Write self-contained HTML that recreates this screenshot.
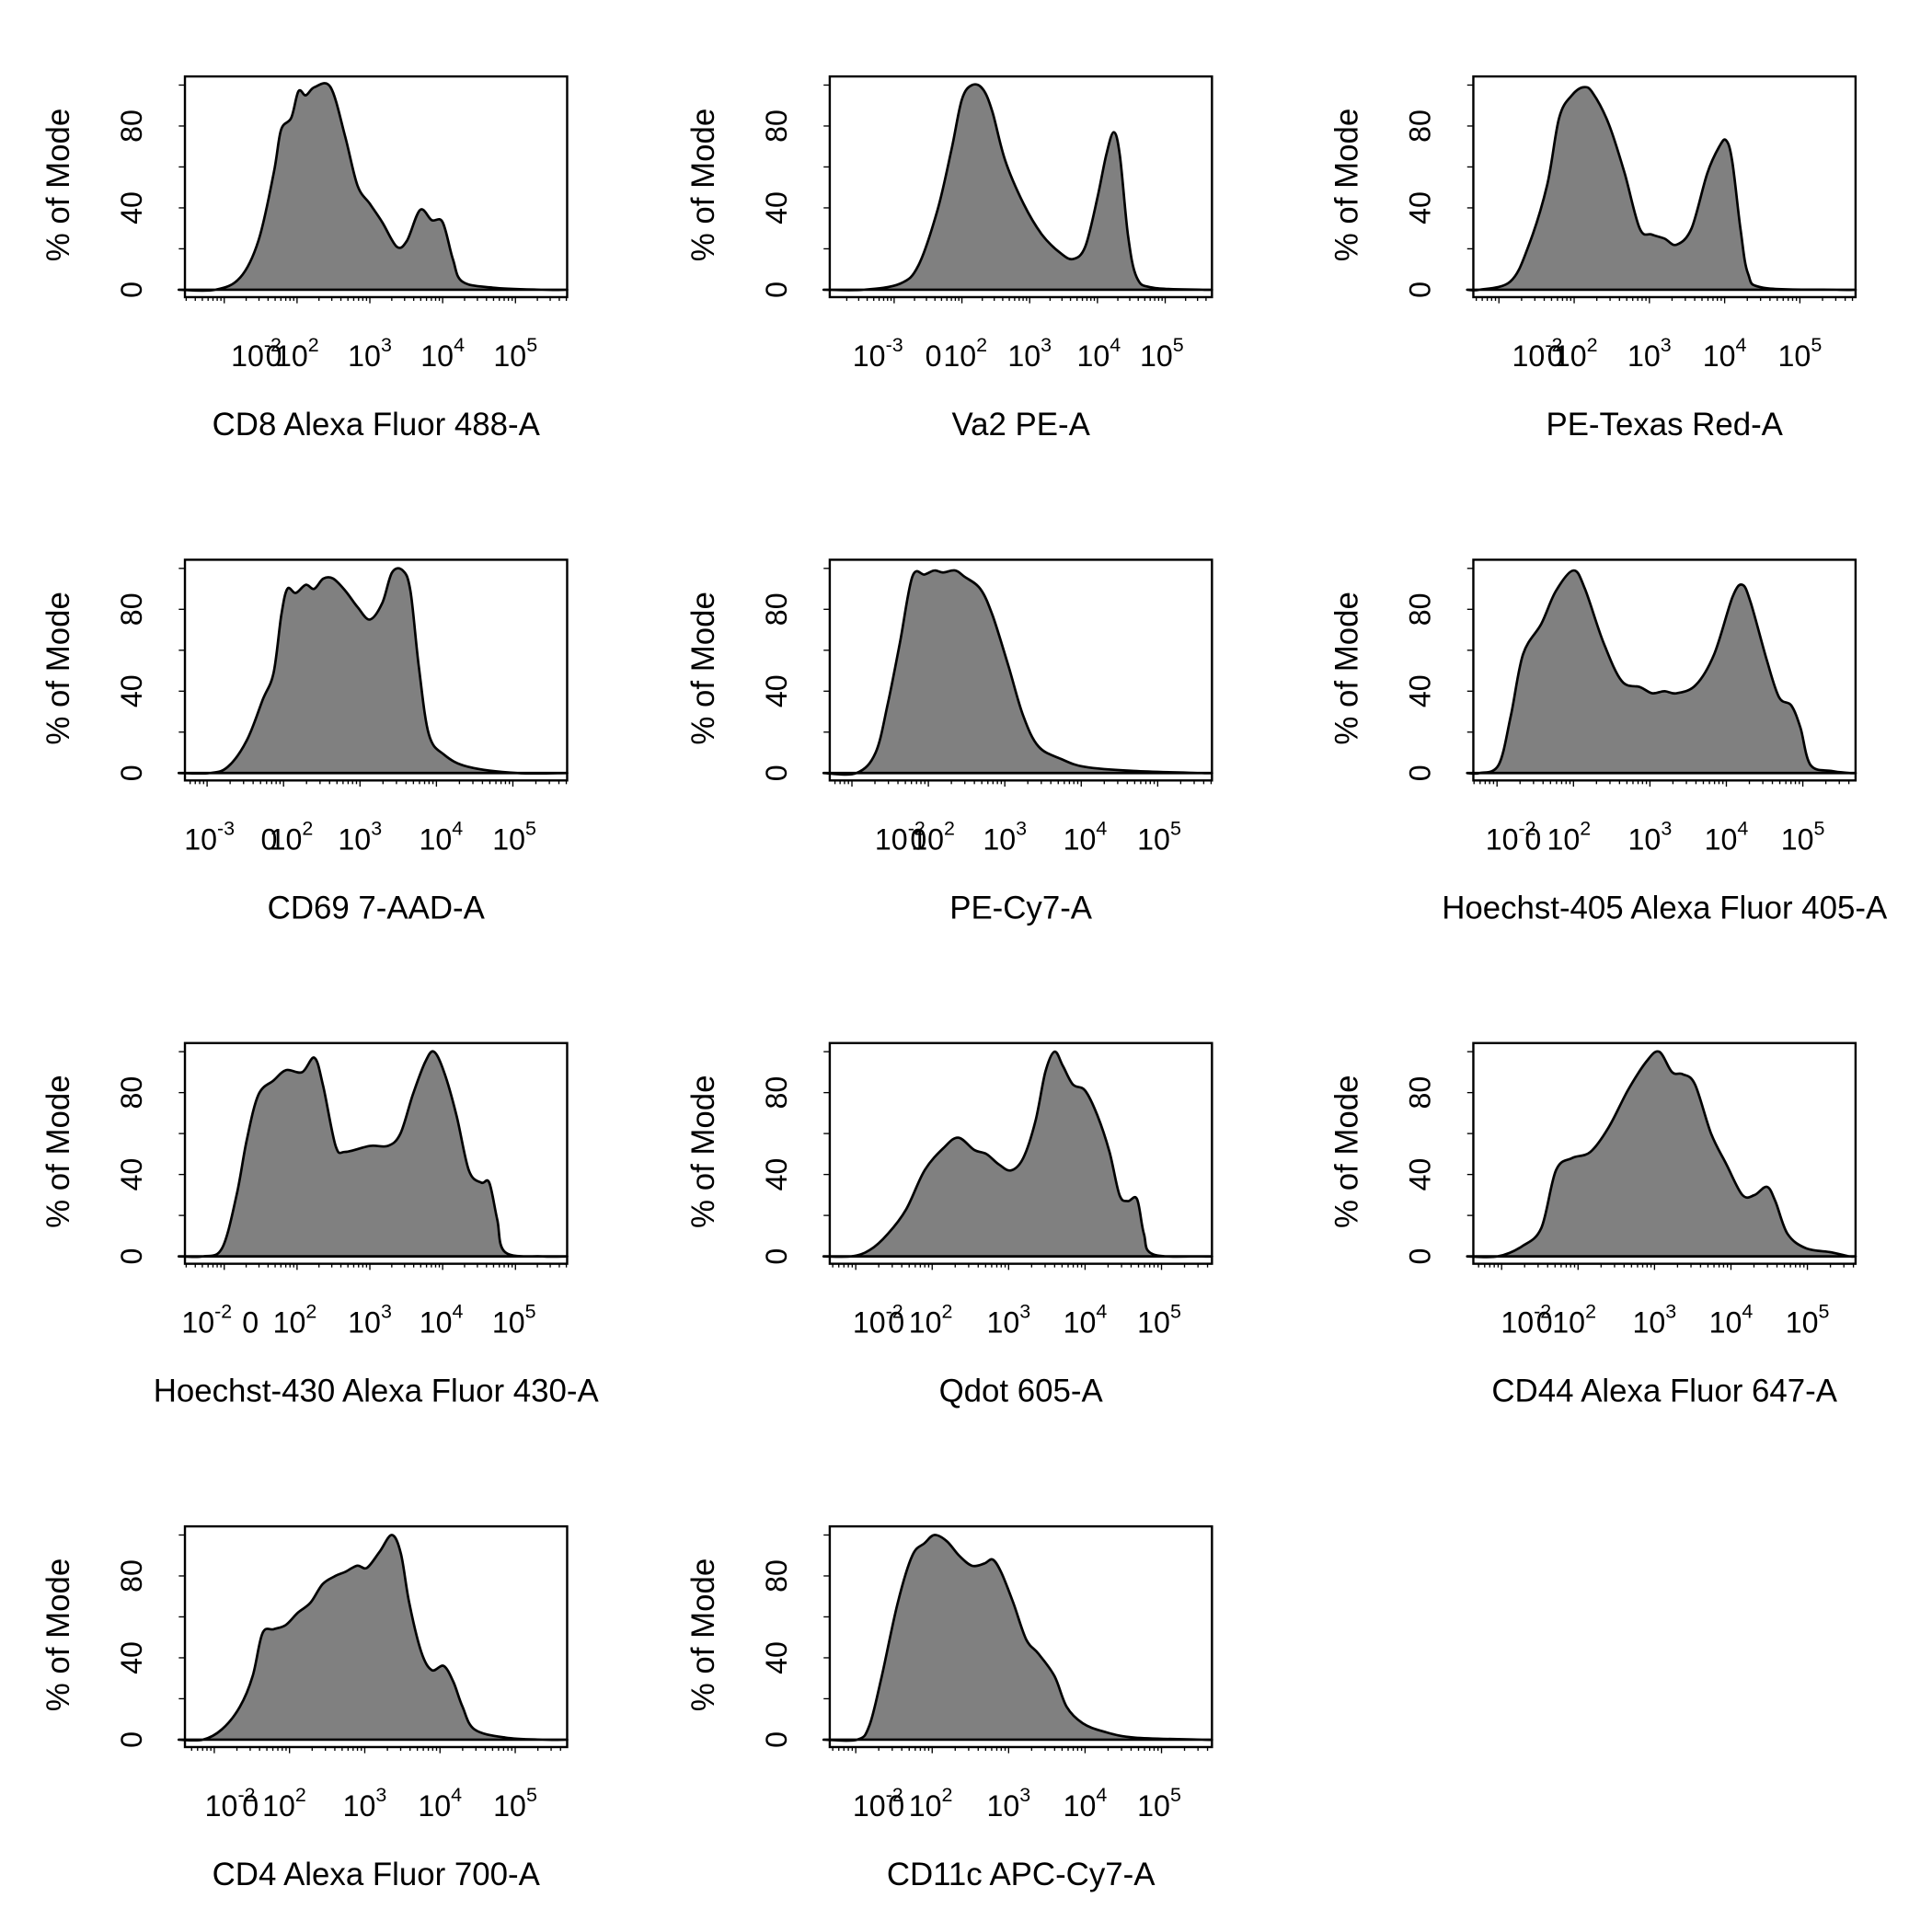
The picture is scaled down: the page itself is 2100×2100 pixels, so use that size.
<!DOCTYPE html>
<html><head><meta charset="utf-8"><style>
html,body{margin:0;padding:0;background:#fff;}
svg{display:block;}
text{font-family:"Liberation Sans",Arial,sans-serif;fill:#000;}
</style></head>
<body>
<svg id="chart" width="2100" height="2100" viewBox="0 0 1567 1567" xmlns="http://www.w3.org/2000/svg"></svg>
<script>
// Panel titles
const titles = ["CD8 Alexa Fluor 488-A","Va2 PE-A","PE-Texas Red-A","CD69 7-AAD-A","PE-Cy7-A","Hoechst-405 Alexa Fluor 405-A","Hoechst-430 Alexa Fluor 430-A","Qdot 605-A","CD44 Alexa Fluor 647-A","CD4 Alexa Fluor 700-A","CD11c APC-Cy7-A"];
// x domains in transformed decade units
const domains = [[0.46,5.71],[0.05,5.69],[0.66,5.74],[0.71,5.71],[0.71,5.71],[0.69,5.69],[0.46,5.71],[0.66,5.66],[0.63,5.63],[0.61,5.69],[0.66,5.66]];
// tick label exponents and their axis values
const tickExp = [["-2","0","2","3","4","5"],["-3","0","2","3","4","5"],["-2","0","2","3","4","5"],["-3","0","2","3","4","5"],["-2","0","2","3","4","5"],["-2","0","2","3","4","5"],["-2","0","2","3","4","5"],["-2","0","2","3","4","5"],["-2","0","2","3","4","5"],["-2","0","2","3","4","5"],["-2","0","2","3","4","5"]];
const tickVals = [
 [1.44,1.68,2.0,3,4,5],[0.76,1.58,2.05,3,4.02,4.95],[1.51,1.75,2.02,3,4,5],
 [1.03,1.81,2.10,3,4.06,5.02],[1.63,1.87,2.06,3,4.05,5.02],[1.18,1.47,1.94,3,4,5],
 [0.76,1.36,1.97,3,3.98,4.98],[1.29,1.53,1.98,3,4,4.97],[1.32,1.56,1.95,3,4,5],
 [1.21,1.48,1.93,3,4,5],[1.29,1.53,1.98,3,4,4.97]];
const yTicks = [0,20,40,60,80,100];
const yLabels = [0,40,80];
// series: x in decade units, y in % of mode
const xs1=[0.88,1.22,1.47,1.68,1.78,1.92,2.02,2.12,2.24,2.46,2.66,2.83,3.0,3.17,3.37,3.51,3.69,3.85,4.0,4.14,4.27,4.69,5.37];
const ys1=[0,6,24,57,78,84,97,95,99,99,75,51,42,33,21,24,39,34,33,15,4,1,0];
const xs2=[0.55,1.09,1.36,1.64,1.85,2.0,2.15,2.31,2.45,2.64,2.91,3.18,3.45,3.64,3.82,4.0,4.13,4.24,4.33,4.45,4.58,4.82,5.55];
const ys2=[0,3,12,39,69,93,100,98,87,63,42,27,18,15,21,45,66,77,66,27,6,1,0];
const xs3=[0.74,1.15,1.39,1.64,1.80,1.97,2.13,2.25,2.46,2.67,2.87,3.03,3.20,3.36,3.56,3.77,3.93,4.02,4.10,4.21,4.31,4.51,5.49];
const ys3=[0,4,21,51,84,95,99,96,81,57,30,27,25,22,30,57,70,73,63,30,8,1,0];
const xs4=[1.03,1.27,1.52,1.73,1.87,1.97,2.05,2.16,2.29,2.40,2.52,2.65,2.81,2.97,3.13,3.29,3.42,3.56,3.66,3.77,3.90,4.10,4.42,5.06];
const ys4=[0,3,16,36,49,77,90,88,92,90,95,95,89,81,75,83,98,99,89,52,19,9,3,0];
const xs5=[1.06,1.31,1.47,1.63,1.79,1.95,2.08,2.19,2.35,2.47,2.68,2.84,3.05,3.24,3.44,3.73,4.05,4.69,5.58];
const ys5=[0,10,34,64,96,97,99,98,99,96,90,77,52,28,13,7,3,1,0];
const xs6=[0.77,1.02,1.18,1.34,1.58,1.77,2.0,2.15,2.39,2.63,2.87,3.03,3.19,3.35,3.60,3.84,4.08,4.21,4.32,4.53,4.69,4.85,4.97,5.10,5.37,5.61];
const ys6=[0,4,28,58,73,89,99,90,64,45,42,39,40,39,43,58,86,92,83,55,37,33,22,4,1,0];
const xs7=[0.71,0.97,1.17,1.31,1.47,1.68,1.85,2.07,2.24,2.36,2.53,2.66,3.0,3.25,3.42,3.59,3.76,3.88,4.02,4.19,4.36,4.53,4.64,4.75,4.86,5.37];
const ys7=[0,4,30,57,79,86,91,90,97,83,54,51,54,54,60,79,95,100,90,69,42,36,36,18,2,0];
const xs8=[0.94,1.18,1.42,1.66,1.90,2.15,2.34,2.55,2.71,2.87,3.03,3.19,3.35,3.48,3.60,3.71,3.84,4.0,4.16,4.32,4.45,4.56,4.68,4.77,4.89,5.53];
const ys8=[0,3,11,23,42,53,58,52,50,45,42,48,66,90,100,93,84,81,69,51,30,27,28,11,1,0];
const xs9=[0.95,1.27,1.52,1.71,1.92,2.16,2.40,2.65,2.89,3.06,3.23,3.37,3.53,3.74,3.94,4.15,4.31,4.47,4.58,4.74,4.98,5.31,5.55];
const ys9=[0,5,14,42,48,51,63,81,95,100,90,89,84,60,45,30,30,34,27,11,4,2,0];
const xs10=[0.85,1.10,1.34,1.51,1.64,1.79,1.95,2.11,2.28,2.44,2.61,2.74,2.90,3.03,3.20,3.36,3.48,3.59,3.75,3.89,4.05,4.18,4.30,4.46,4.87,5.36];
const ys10=[0,5,16,31,52,54,56,62,67,76,80,82,85,84,92,100,91,67,43,34,36,28,16,5,1,0];
const xs11=[1.02,1.18,1.34,1.55,1.74,1.90,2.03,2.19,2.35,2.52,2.68,2.79,2.90,3.06,3.23,3.39,3.60,3.76,3.97,4.24,4.65,5.53];
const ys11=[0,7,31,67,90,96,100,97,90,85,86,88,82,67,49,42,31,16,8,4,1,0];
const seriesX=[xs1,xs2,xs3,xs4,xs5,xs6,xs7,xs8,xs9,xs10,xs11];
const seriesY=[ys1,ys2,ys3,ys4,ys5,ys6,ys7,ys8,ys9,ys10,ys11];

const NS="http://www.w3.org/2000/svg";
const svg=document.getElementById('chart');
function mk(tag,attrs,parent){const e=document.createElementNS(NS,tag);for(const k in attrs)e.setAttribute(k,attrs[k]);(parent||svg).appendChild(e);return e;}
function smooth(P){
  let s=`M${P[0][0].toFixed(1)},${P[0][1].toFixed(1)}`;
  for(let i=0;i<P.length-1;i++){
    const p0=P[Math.max(0,i-1)],p1=P[i],p2=P[i+1],p3=P[Math.min(P.length-1,i+2)];
    const c1=[p1[0]+(p2[0]-p0[0])/6,p1[1]+(p2[1]-p0[1])/6];
    const c2=[p2[0]-(p3[0]-p1[0])/6,p2[1]-(p3[1]-p1[1])/6];
    s+=` C${c1[0].toFixed(1)},${c1[1].toFixed(1)} ${c2[0].toFixed(1)},${c2[1].toFixed(1)} ${p2[0].toFixed(1)},${p2[1].toFixed(1)}`;
  }
  return s;
}

const colX=[150,673,1195], rowY=[62,454,846,1238], W=310, H=179;
for(let p=0;p<titles.length;p++){
  const bx=colX[p%3], by=rowY[Math.floor(p/3)];
  const g=mk('g',{});
  
  
  const d=domains[p];
  const xScale=v=>bx+(v-d[0])/(d[1]-d[0])*W;
  const zeroY=by+173, topY=by+7;
  const yScale=v=>zeroY-(v/100)*(zeroY-topY);
  const X=seriesX[p],Y=seriesY[p];
  const P=[[bx-5,zeroY]];
  for(let i=0;i<X.length;i++) P.push([xScale(X[i]),yScale(Y[i])]);
  P.push([bx+W,zeroY]);
  const area=mk('path',{d:smooth(P)+' Z',fill:'#808080',stroke:'#000','stroke-width':2,'stroke-linejoin':'round'},g);
  
  
  const box=mk('rect',{x:bx,y:by,width:W,height:H,fill:'none',stroke:'#000','stroke-width':1.8},g);
  
  
  for(const t of yTicks){mk('line',{x1:bx-5,x2:bx,y1:yScale(t),y2:yScale(t),stroke:'#000','stroke-width':1},g);}
  for(const t of yLabels){
    const tx=mk('text',{x:bx-43,y:yScale(t)+8,'font-size':24,'text-anchor':'middle',transform:`rotate(-90 ${bx-43} ${yScale(t)})`},g);
    
    
    tx.textContent=t;
  }
  const yl=mk('text',{x:bx-103,y:by+97,'font-size':26,'text-anchor':'middle',transform:`rotate(-90 ${bx-103} ${by+88})`},g);
  
  
  yl.textContent='% of Mode';
  for(let k=0;k<=6;k++){for(let m=1;m<=9;m++){const v=k+Math.log10(m);if(v<d[0]||v>d[1])continue;
    mk('line',{x1:xScale(v),x2:xScale(v),y1:by+H,y2:by+H+(m===1?5:3),stroke:'#000','stroke-width':1},g);}}
  for(let i=0;i<tickVals[p].length;i++){
    const e=tickExp[p][i], x=xScale(tickVals[p][i]);
    const tx=mk('text',{x:x,y:by+235,'font-size':24,'text-anchor':'middle'},g);
    
    
    if(e==='0'){tx.textContent='0';}
    else{tx.textContent='10';const s=mk('tspan',{dy:-12,'font-size':16},tx);s.textContent=e;}
  }
  const xt=mk('text',{x:bx+W/2,y:by+291,'font-size':26,'text-anchor':'middle'},g);
  
  
  xt.textContent=titles[p];
}
</script>
</body></html>
